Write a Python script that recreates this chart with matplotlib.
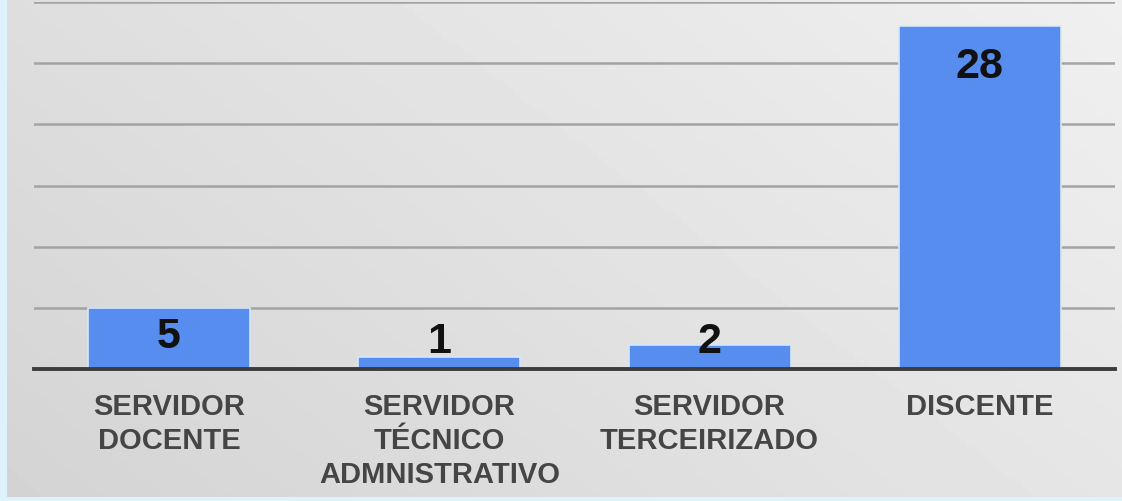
import matplotlib.pyplot as plt
import numpy as np

categories = ["SERVIDOR\nDOCENTE", "SERVIDOR\nTÉCNICO\nADMNISTRATIVO",
              "SERVIDOR\nTERCEIRIZADO", "DISCENTE"]
counts = [5, 1, 2, 28]
y_ticks = [0, 5, 10, 15, 20, 25, 30]

plt.rcParams['font.family'] = ['Liberation Sans', 'DejaVu Sans']

fig = plt.figure(figsize=(11.22, 5.02), dpi=100)
fig.patch.set_facecolor('#ddf2fb')

# gradient panel behind the chart
bg = fig.add_axes([7 / 1122, 4 / 502, 1115 / 1122, 498 / 502])
gx = np.linspace(0, 1, 200)
gy = np.linspace(0, 1, 100)
X, Y = np.meshgrid(gx, gy)
shade = 0.83 + 0.07 * X + 0.04 * Y
bg.imshow(shade, cmap='gray', vmin=0, vmax=1, aspect='auto',
          origin='lower', extent=[0, 1, 0, 1])
bg.axis('off')

ax = fig.add_axes([34 / 1122, 132 / 502, 1081 / 1122, 367 / 502])
ax.patch.set_alpha(0)
x = np.arange(len(categories))
bars = ax.bar(x, counts, width=0.6, color='#578def',
              edgecolor='#d6e6ff', linewidth=1.2, zorder=3)

ax.set_xlim(-0.5, 3.5)
ax.set_ylim(0, 30)
ax.set_yticks(y_ticks)
ax.yaxis.grid(True, color='#a3a3a3', linewidth=1.8, zorder=0)
ax.set_axisbelow(True)
for s in ['top', 'right', 'left']:
    ax.spines[s].set_visible(False)
ax.spines['bottom'].set_color('#3c3c3c')
ax.spines['bottom'].set_linewidth(2.8)
ax.spines['bottom'].set_zorder(4)
ax.tick_params(axis='y', left=False, labelleft=False)
ax.tick_params(axis='x', bottom=False, pad=13)
ax.set_xticks(x)
ax.set_xticklabels(categories, fontsize=21, fontweight='bold',
                   color='#454545', linespacing=1.27, va='top')

for xi, v in zip(x, counts):
    ly = max(v - (3.2 if v > 10 else 2.3), 2.3)
    ax.text(xi, ly, str(v), ha='center', va='center', fontsize=31,
            fontweight='bold', color='#111111', zorder=5)

fig.savefig('out.png', dpi=100, facecolor=fig.get_facecolor())
